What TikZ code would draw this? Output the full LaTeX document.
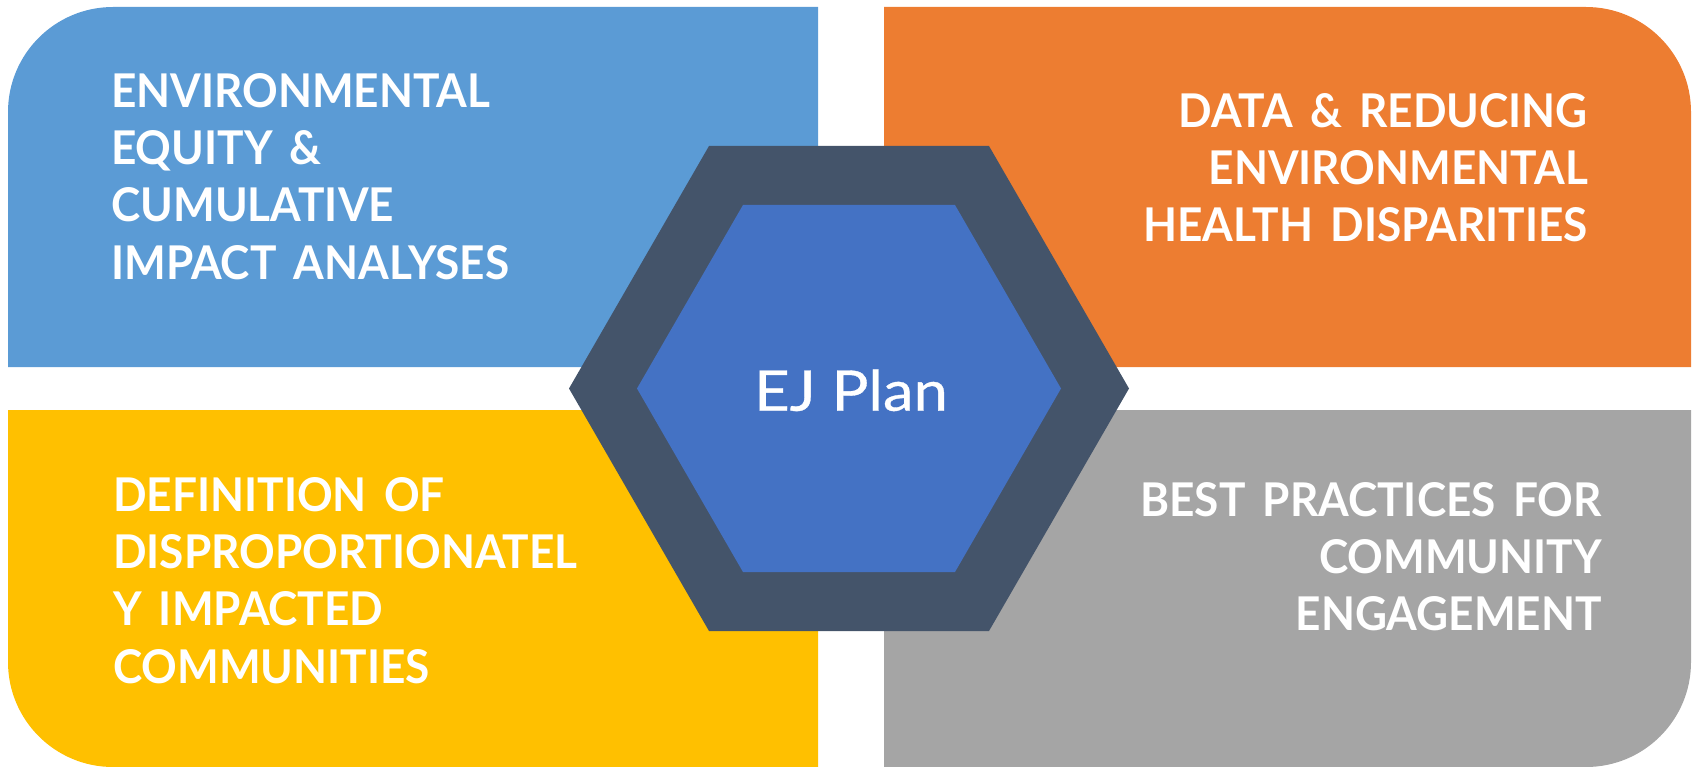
\documentclass[tikz,border=0pt]{standalone}
\usepackage{fontspec}
\setmainfont{Lato}
\newfontfamily\panelfont{Lato}[FakeStretch=0.95,WordSpace=1.6]
\newfontfamily\titlefont{Lato}[FakeStretch=1.1,FakeBold=0.6]
\definecolor{cblue}{HTML}{5B9BD5}
\definecolor{corange}{HTML}{ED7D31}
\definecolor{cyellow}{HTML}{FFC000}
\definecolor{cgray}{HTML}{A5A5A5}
\definecolor{chexout}{HTML}{44546A}
\definecolor{chexin}{HTML}{4472C4}
\tikzset{
  paneltext/.style={text=white, inner sep=0pt, font=\panelfont\fontsize{46.5}{57.3}\selectfont\bfseries},
  titletext/.style={text=white, inner sep=0pt, font=\titlefont\fontsize{56}{60}\selectfont}
}
\begin{document}
\begin{tikzpicture}[x=1pt,y=-1pt]
\useasboundingbox (0,0) rectangle (1694,767);
% panels
\fill[cblue] (818,367) -- (8,367) -- (8,112) arc[start angle=180,end angle=270,radius=105] -- (818,7) -- cycle;
\fill[corange] (884,7) -- (1586,7) arc[start angle=270,end angle=360,radius=105] -- (1691,367) -- (884,367) -- cycle;
\fill[cyellow] (818,410) -- (8,410) -- (8,662) arc[start angle=180,end angle=90,radius=105] -- (818,767) -- cycle;
\fill[cgray] (884,410) -- (1691,410) -- (1691,662) arc[start angle=0,end angle=90,radius=105] -- (884,767) -- cycle;
% hexagon
\fill[chexout] (569,388.5) -- (709,146) -- (989,146) -- (1129,388.5) -- (989,631) -- (709,631) -- cycle;
\fill[chexin] (637,388.5) -- (743,205) -- (955,205) -- (1061,388.5) -- (955,572) -- (743,572) -- cycle;
% texts
\node[paneltext, anchor=north west, align=left] (tl) at (111,73) {ENVIRONMENTAL\\EQUITY \&\\CUMULATIVE\\IMPACT ANALYSES};
\node[paneltext, anchor=north east, align=right] (tr) at (1588,93) {DATA \& REDUCING\\ENVIRONMENTAL\\HEALTH DISPARITIES};
\node[paneltext, anchor=north west, align=left] (bl) at (113,477) {DEFINITION OF\\DISPROPORTIONATEL\\Y IMPACTED\\COMMUNITIES};
\node[paneltext, anchor=north east, align=right] (br) at (1602,482) {BEST PRACTICES FOR\\COMMUNITY\\ENGAGEMENT};
\node[titletext, anchor=base] (ej) at (851,410.7) {EJ Plan};
\end{tikzpicture}
\end{document}
